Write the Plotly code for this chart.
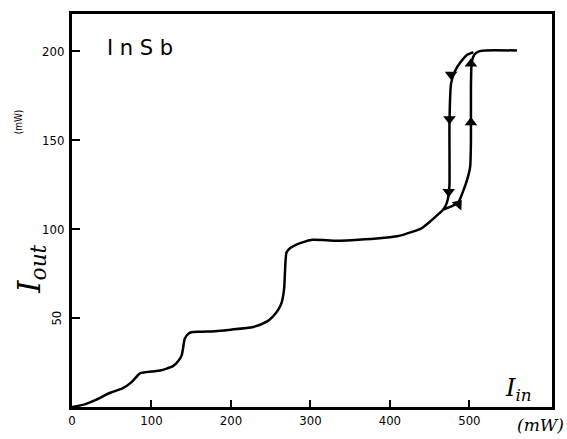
import plotly.graph_objects as go

# Common (increasing) branch
x_main = [0, 16, 30, 48, 64, 75, 86, 100, 111, 127, 134, 138, 142, 146, 150, 160, 170, 200, 228, 245,
          253, 260, 264, 267, 268, 270, 275, 283, 293, 303, 320, 337, 360, 390, 409, 429, 440, 450, 460, 467]
y_main = [0, 1.5, 4, 8, 10.6, 14, 19, 20, 20.5, 23, 26, 29, 38.5, 41, 42, 42.3, 42.4, 43.5, 45, 48,
          51, 55, 59, 67, 76, 87, 89.5, 91.5, 93, 94, 93.8, 93.5, 94, 95, 96, 98.6, 100.5, 104, 108, 111]

# Up-sweep branch of the hysteresis loop
x_up = [467, 478, 486, 491, 498, 501, 502, 502, 503, 506, 512, 520, 560]
y_up = [111, 113, 115, 120, 129, 135, 150, 180, 194, 198, 200, 200.5, 200.5]

# Down-sweep branch
x_down = [505, 497, 489, 482, 477, 475, 475, 474, 473, 470, 467]
y_down = [199.5, 198, 194, 189, 182, 160, 125, 120, 117, 113, 111]

# Direction arrows
x_arr_dn = [477, 475, 474]
y_arr_dn = [187, 162, 121]
x_arr_up = [502, 502]
y_arr_up = [193, 160]
x_arr_mid = [486]
y_arr_mid = [114]

x_ticks = [0, 100, 200, 300, 400, 500]
y_ticks = [50, 100, 150, 200]
y_tick_text = ["50", "100", "150", "200"]

fig = go.Figure()
line = dict(color="black", width=2.5, shape="spline", smoothing=0.6)
for xs, ys in [(x_main, y_main), (x_up, y_up), (x_down, y_down)]:
    fig.add_trace(go.Scatter(x=xs, y=ys, mode="lines", line=line, showlegend=False, hoverinfo="skip"))

fig.add_trace(go.Scatter(x=x_arr_dn, y=y_arr_dn, mode="markers",
                         marker=dict(symbol="triangle-down", size=11, color="black"), showlegend=False))
fig.add_trace(go.Scatter(x=x_arr_up, y=y_arr_up, mode="markers",
                         marker=dict(symbol="triangle-up", size=11, color="black"), showlegend=False))
fig.add_trace(go.Scatter(x=x_arr_mid, y=y_arr_mid, mode="markers",
                         marker=dict(symbol="triangle-up", size=11, color="black", angle=40), showlegend=False))

font_t = dict(family="DejaVu Sans Condensed", size=13, color="black")

fig.update_xaxes(range=[0, 604], showgrid=False, zeroline=False, showline=True, linecolor="black",
                 linewidth=2.5, mirror=True, ticks="inside", ticklen=7, tickwidth=2, tickcolor="black",
                 tickvals=x_ticks, ticktext=[str(v) for v in x_ticks], tickfont=font_t)
fig.update_yaxes(range=[0, 221], showgrid=False, zeroline=False, showline=True, linecolor="black",
                 linewidth=2.5, mirror=True, ticks="inside", ticklen=8, tickwidth=2, tickcolor="black",
                 tickvals=y_ticks, showticklabels=False)

ann = []
for v, t in zip(y_ticks, y_tick_text):
    ann.append(dict(x=0, y=v, xref="x", yref="y", text=t, showarrow=False, xanchor="right",
                    xshift=-6, font=font_t, textangle=-90 if v == 50 else 0))

ann += [
    dict(x=85, y=202, xref="x", yref="y", text="I n S b", showarrow=False,
         font=dict(family="DejaVu Sans", size=21, color="black")),
    dict(x=-0.085, y=0.35, xref="paper", yref="paper", text="<i>I</i><sub><i>out</i></sub>",
         showarrow=False, textangle=-90, font=dict(family="DejaVu Serif", size=31, color="black"),
         xanchor="center", yanchor="middle"),
    dict(x=-0.112, y=0.725, xref="paper", yref="paper", text="(mW)", showarrow=False, textangle=-90,
         font=dict(family="DejaVu Sans Condensed", size=10, color="black"),
         xanchor="center", yanchor="middle"),
    dict(x=562, y=10, xref="x", yref="y", text="<i>I</i><sub><i>in</i></sub>", showarrow=False,
         font=dict(family="DejaVu Serif", size=24, color="black")),
    dict(x=0.975, y=-0.045, xref="paper", yref="paper", text="<i>(mW)</i>", showarrow=False,
         xanchor="center", yanchor="middle",
         font=dict(family="DejaVu Serif", size=17, color="black")),
]

fig.update_layout(width=567, height=439, margin=dict(l=72, r=15, t=11, b=30),
                  plot_bgcolor="white", paper_bgcolor="white", annotations=ann)

fig.write_html("out.html")
